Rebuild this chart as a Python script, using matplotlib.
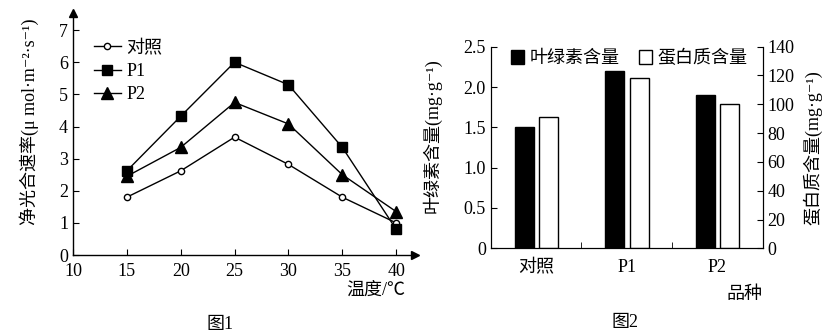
import matplotlib.pyplot as plt
import numpy as np

plt.rcParams['font.family'] = ['Liberation Serif', 'Noto Sans CJK SC', 'DejaVu Serif']

# figure 1 data: net photosynthetic rate vs temperature
temps = [15, 20, 25, 30, 35, 40]
rate_ck = [1.8, 2.62, 3.67, 2.82, 1.8, 1.0]
rate_p1 = [2.62, 4.32, 6.0, 5.3, 3.35, 0.8]
rate_p2 = [2.45, 3.35, 4.75, 4.08, 2.5, 1.35]

# figure 2 data: chlorophyll and protein content per variety
varieties = ['对照', 'P1', 'P2']
chlorophyll = [1.5, 2.2, 1.9]
protein = [91, 118, 100]

fs = 13
fig = plt.figure(figsize=(8.33, 3.35), dpi=100)

# ---- figure 1 ----
ax1 = fig.add_axes([0.0876, 0.2388, 0.410, 0.722])
ax1.plot(temps, rate_ck, '-o', color='k', mfc='white', ms=4.5, lw=1, label='对照')
ax1.plot(temps, rate_p1, '-s', color='k', ms=6.5, lw=1, label='P1')
ax1.plot(temps, rate_p2, '-^', color='k', ms=8.5, lw=1, label='P2')
ax1.set_xlim(10, 41.7)
ax1.set_ylim(0, 7.53)
ax1.set_xticks([10, 15, 20, 25, 30, 35, 40])
ax1.set_yticks(range(8))
ax1.tick_params(direction='in', length=4, labelsize=fs, width=0.8)
ax1.tick_params(axis='x', pad=6)
ax1.spines['top'].set_visible(False)
ax1.spines['right'].set_visible(False)
for s in ('left', 'bottom'):
    ax1.spines[s].set_linewidth(1)
# arrow heads at the ends of the axes
ax1.plot(1, 0, '>k', ms=6, transform=ax1.transAxes, clip_on=False)
ax1.plot(0, 1, '^k', ms=6, transform=ax1.transAxes, clip_on=False)
ax1.set_ylabel('净光合速率(μ mol·m⁻²·s⁻¹)', fontsize=fs)
ax1.yaxis.set_label_coords(-0.10, 0.55)
ax1.legend(loc='upper left', bbox_to_anchor=(0.04, 0.92), frameon=False, fontsize=fs,
           handlelength=1.5, handletextpad=0.3, labelspacing=0.35, borderaxespad=0)
fig.text(405 / 833, 1 - 290 / 335, '温度/℃', fontsize=fs, ha='right', va='center')
fig.text(220 / 833, 1 - 324 / 335, '图1', fontsize=fs, ha='center', va='center')

# ---- figure 2 ----
x = np.arange(len(varieties))
ax2 = fig.add_axes([0.589, 0.2588, 0.3265, 0.6018])
ax2.bar(x - 0.13, chlorophyll, width=0.21, color='k', edgecolor='k', lw=1, label='叶绿素含量')
ax2.set_xlim(-0.5, 2.5)
ax2.set_ylim(0, 2.5)
ax2.set_yticks([0, 0.5, 1.0, 1.5, 2.0, 2.5])
ax2.set_yticklabels(['0', '0.5', '1.0', '1.5', '2.0', '2.5'])
ax2.set_xticks(x)
ax2.set_xticklabels(varieties)
ax2.set_xticks([0.5, 1.5], minor=True)
ax2.tick_params(axis='x', which='major', length=0, labelsize=fs, pad=8)
ax2.tick_params(axis='x', which='minor', direction='in', length=4)
ax2.tick_params(axis='y', direction='in', length=4, labelsize=fs)
ax2.spines['top'].set_visible(False)
ax2.set_ylabel('叶绿素含量(mg·g⁻¹)', fontsize=fs)
ax2.yaxis.set_label_coords(-0.18, 0.56)

ax3 = ax2.twinx()
ax3.bar(x + 0.14, protein, width=0.21, color='white', edgecolor='k', lw=1, label='蛋白质含量')
ax3.set_ylim(0, 140)
ax3.set_yticks(range(0, 141, 20))
ax3.tick_params(axis='y', direction='in', length=4, labelsize=fs)
ax3.spines['top'].set_visible(False)
ax3.set_ylabel('蛋白质含量(mg·g⁻¹)', fontsize=fs, rotation=90)
ax3.yaxis.set_label_coords(1.15, 0.5)

h1, l1 = ax2.get_legend_handles_labels()
h2, l2 = ax3.get_legend_handles_labels()
ax3.legend(h1 + h2, l1 + l2, loc='upper center', bbox_to_anchor=(0.51, 1.02), ncol=2,
           frameon=False, fontsize=fs, handlelength=0.7, handleheight=0.8,
           handletextpad=0.3, columnspacing=1.1, borderaxespad=0)
fig.text(745 / 833, 1 - 295 / 335, '品种', fontsize=fs, ha='center', va='center')
fig.text(625 / 833, 1 - 322 / 335, '图2', fontsize=fs, ha='center', va='center')

fig.savefig('out.png', dpi=100)
